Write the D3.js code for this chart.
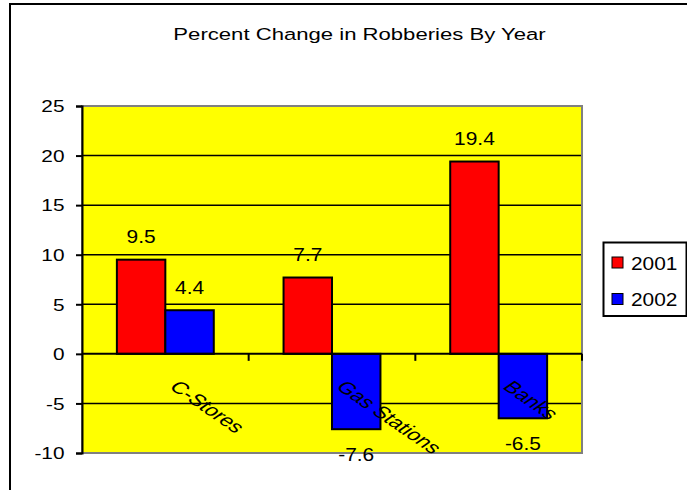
<!DOCTYPE html>
<html>
<head>
<meta charset="utf-8">
<script src="https://cdn.jsdelivr.net/npm/d3@7/dist/d3.min.js"></script>
<style>
  html, body { margin: 0; padding: 0; background: #ffffff; }
  svg { display: block; font-family: Arial, "Liberation Sans", sans-serif; }
</style>
</head>
<body>
<svg id="chart" width="687" height="490"></svg>
<script>
// Chart data
const chartTitle = "Percent Change in Robberies By Year";
const categories = ["C-Stores", "Gas Stations", "Banks"];
const seriesNames = ["2001", "2002"];
const values2001 = [9.5, 7.7, 19.4];
const values2002 = [4.4, -7.6, -6.5];
const yTicks = [-10, -5, 0, 5, 10, 15, 20, 25];
const seriesColors = ["#ff0000", "#0000ff"];

const svg = d3.select("#chart");

// Plot area
const plot = { left: 82, top: 106, right: 582, bottom: 453 };

// Text in this chart is set wide: each label is stretched horizontally
// about its own anchor point.
function wideText(sel, x, yPos, sx) {
  sel.attr("transform", `translate(${x},${yPos}) scale(${sx},1)`)
    .attr("x", 0).attr("y", 0);
}

// Outer chart frame (runs off the right and bottom edges)
svg.append("rect")
  .attr("x", 10).attr("y", 4)
  .attr("width", 700).attr("height", 500)
  .attr("fill", "#ffffff")
  .attr("stroke", "#000000")
  .attr("stroke-width", 2);

svg.append("text")
  .attr("text-anchor", "middle")
  .attr("font-size", 16.5)
  .attr("fill", "#000")
  .text(chartTitle)
  .call(wideText, 359.5, 39.5, 1.34);

const x0 = d3.scaleBand()
  .domain(categories)
  .range([plot.left, plot.right])
  .paddingInner(0).paddingOuter(0);

const bandW = x0.bandwidth();
const gapRatio = 1.44;
const barW = bandW / (2 + gapRatio);

const y = d3.scaleLinear()
  .domain([d3.min(yTicks), d3.max(yTicks)])
  .range([plot.bottom, plot.top]);

// Yellow background
svg.append("rect")
  .attr("x", plot.left).attr("y", plot.top)
  .attr("width", plot.right - plot.left)
  .attr("height", plot.bottom - plot.top)
  .attr("fill", "#ffff00");

// Gridlines
svg.append("g")
  .selectAll("line")
  .data(yTicks.filter(t => t !== 0 && t !== d3.min(yTicks) && t !== d3.max(yTicks)))
  .join("line")
  .attr("x1", plot.left).attr("x2", plot.right)
  .attr("y1", d => y(d)).attr("y2", d => y(d))
  .attr("stroke", "#000").attr("stroke-width", 1.5);

// Gray plot-area border
svg.append("rect")
  .attr("x", plot.left).attr("y", plot.top)
  .attr("width", plot.right - plot.left)
  .attr("height", plot.bottom - plot.top)
  .attr("fill", "none")
  .attr("stroke", "#808080")
  .attr("stroke-width", 2);

// Bars
const rows = categories.map((c, i) => ({ cat: c, vals: [values2001[i], values2002[i]] }));
const bars = [];
rows.forEach(r => r.vals.forEach((v, s) => bars.push({ cat: r.cat, s, v })));

const barX = d => x0(d.cat) + (bandW - 2 * barW) / 2 + d.s * barW;

svg.append("g")
  .selectAll("rect")
  .data(bars)
  .join("rect")
  .attr("x", barX)
  .attr("y", d => y(Math.max(0, d.v)))
  .attr("width", barW)
  .attr("height", d => Math.abs(y(d.v) - y(0)))
  .attr("fill", d => seriesColors[d.s])
  .attr("stroke", "#000")
  .attr("stroke-width", 2);

// Y axis (plain hyphen for negatives)
const yAxis = d3.axisLeft(y)
  .tickValues(yTicks)
  .tickFormat(d => String(d))
  .tickSize(6).tickPadding(8);
const gy = svg.append("g")
  .attr("transform", `translate(${plot.left},0)`)
  .call(yAxis);
gy.select(".domain").attr("stroke", "#000").attr("stroke-width", 2);
gy.selectAll(".tick line").attr("stroke", "#000").attr("stroke-width", 2);
gy.selectAll(".tick text")
  .attr("font-size", 16)
  .attr("font-family", "Arial, 'Liberation Sans', sans-serif")
  .attr("fill", "#000")
  .attr("dy", null)
  .call(wideText, -17.5, 5.8, 1.3);

// Category axis along zero
const zeroY = y(0);
svg.append("line")
  .attr("x1", plot.left).attr("x2", plot.right)
  .attr("y1", zeroY).attr("y2", zeroY)
  .attr("stroke", "#000").attr("stroke-width", 2);

svg.append("g")
  .selectAll("line")
  .data(categories.slice(1).map(c => x0(c)).concat([plot.right]))
  .join("line")
  .attr("x1", d => d).attr("x2", d => d)
  .attr("y1", zeroY).attr("y2", zeroY + 7)
  .attr("stroke", "#000").attr("stroke-width", 2);

// Slanted category labels (45 degrees, widened)
svg.append("g")
  .selectAll("text")
  .data(categories)
  .join("text")
  .attr("transform", d => `translate(${x0(d) + bandW / 2 + 3},${zeroY + 34}) scale(1.45,1) rotate(45)`)
  .attr("font-size", 16.5)
  .attr("fill", "#000")
  .text(d => d);

// Value labels
svg.append("g")
  .selectAll("text")
  .data(bars)
  .join("text")
  .attr("text-anchor", "middle")
  .attr("font-size", 19)
  .attr("fill", "#000")
  .text(d => d.v.toFixed(1))
  .each(function (d) {
    const ty = d.v >= 0 ? y(d.v) - 16.5 : y(d.v) + 31.5;
    d3.select(this).call(wideText, barX(d) + barW / 2, ty, 1.1);
  });

// Legend
const legend = svg.append("g").attr("transform", "translate(603.5,242.5)");
legend.append("rect")
  .attr("width", 83).attr("height", 73.5)
  .attr("fill", "#fff").attr("stroke", "#000").attr("stroke-width", 2);
const items = legend.selectAll("g.item")
  .data(seriesNames)
  .join("g")
  .attr("class", "item")
  .attr("transform", (d, i) => `translate(8.5,${14.5 + i * 36.5})`);
items.append("rect")
  .attr("width", 11).attr("height", 11)
  .attr("fill", (d, i) => seriesColors[i])
  .attr("stroke", "#000").attr("stroke-width", 1);
items.append("text")
  .attr("font-size", 18.5)
  .attr("fill", "#000")
  .text(d => d)
  .call(wideText, 19, 12.5, 1.13);
</script>
</body>
</html>
